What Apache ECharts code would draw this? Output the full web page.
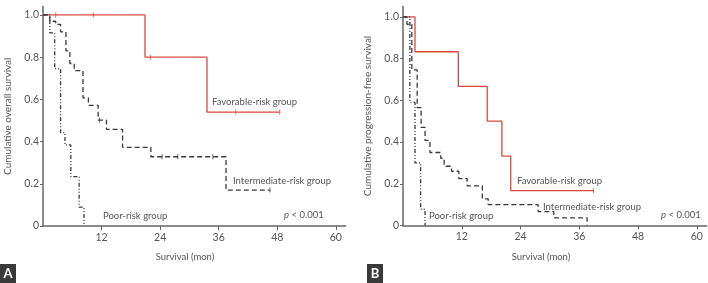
<!DOCTYPE html>
<html>
<head>
<meta charset="utf-8">
<script src="https://cdn.jsdelivr.net/npm/echarts@6/dist/echarts.min.js"></script>
<style>
  html, body { margin: 0; padding: 0; background: #fff; }
  #chart { width: 708px; height: 283px; }
</style>
</head>
<body>
<div id="chart"></div>
<script>
// A: overall survival (months, survival)
const osFavT = [0, 20.9, 33.6, 48.5];
const osFavS = [1.0, 0.80, 0.54, 0.54];
const osIntT = [0, 1.4, 2.6, 3.6, 4.7, 5.5, 6.4, 8.2, 9.3, 11.3, 13.0, 16.3, 22.1, 37.5, 46.5];
const osIntS = [1.0, 0.97, 0.955, 0.92, 0.83, 0.77, 0.736, 0.607, 0.572, 0.502, 0.458, 0.373, 0.328, 0.17, 0.17];
const osPoorT = [0, 1.4, 2.4, 3.6, 4.5, 5.7, 7.4, 8.4];
const osPoorS = [1.0, 0.915, 0.745, 0.442, 0.384, 0.234, 0.089, 0];
const osFavCensT = [2.6, 10.3, 22.0, 39.5, 48.5];
const osFavCensS = [1.0, 1.0, 0.8, 0.54, 0.54];
const osIntCensT = [11.6, 24.4, 27.6, 34.8, 46.5];
const osIntCensS = [0.502, 0.328, 0.328, 0.328, 0.17];

// B: progression-free survival
const pfsFavT = [0, 2.45, 11.3, 17.2, 20.2, 22.0, 38.9];
const pfsFavS = [1.0, 0.833, 0.667, 0.5, 0.333, 0.167, 0.167];
const pfsIntT = [0, 0.8, 1.8, 2.9, 3.7, 4.5, 5.5, 7.7, 8.4, 9.9, 11.4, 13.1, 16.2, 17.4, 27.6, 30.8, 37.6];
const pfsIntS = [1.0, 0.965, 0.746, 0.565, 0.47, 0.408, 0.35, 0.322, 0.284, 0.26, 0.225, 0.19, 0.128, 0.10, 0.067, 0.037, 0];
const pfsPoorT = [0, 1.4, 2.45, 3.6, 4.5];
const pfsPoorS = [1.0, 0.59, 0.30, 0.078, 0];
const pfsFavCensT = [38.9];
const pfsFavCensS = [0.167];

const xTicks = [12, 24, 36, 48, 60];
const yTicks = [0, 0.2, 0.4, 0.6, 0.8, 1.0];

const FONT = 'Lato, "Open Sans", sans-serif';
const RED = '#d8483f';
const INK = '#3a3a3a';
const TXT = '#555';

function pairs(t, s) {
    return t.map((v, i) => [v, s[i]]);
}

function km(name, idx, t, s, color, type) {
    return {
        name: name, type: 'line', step: 'end',
        xAxisIndex: idx, yAxisIndex: idx,
        data: pairs(t, s), symbol: 'none',
        lineStyle: { color: color, width: 1.3, type: type }
    };
}

function cens(idx, t, s, color) {
    return {
        type: 'scatter', xAxisIndex: idx, yAxisIndex: idx,
        data: pairs(t, s), symbol: 'rect', symbolSize: [1, 5],
        itemStyle: { color: color }
    };
}

function xAx(idx) {
    return {
        type: 'value', gridIndex: idx, min: 0, max: 62,
        axisLine: { lineStyle: { color: '#666', width: 1.5 } },
        axisTick: { length: 4, customValues: xTicks, lineStyle: { color: '#666' } },
        axisLabel: { customValues: xTicks, color: TXT, fontFamily: FONT, fontSize: 10.5, margin: 6 },
        splitLine: { show: false }
    };
}

function yAx(idx, max) {
    return {
        type: 'value', gridIndex: idx, min: 0, max: max,
        axisLine: { show: true, lineStyle: { color: '#666', width: 1.5 } },
        axisTick: { show: true, length: 3, customValues: yTicks, lineStyle: { color: '#666' } },
        axisLabel: {
            customValues: yTicks, color: TXT, fontFamily: FONT, fontSize: 10.5, margin: 4,
            formatter: v => v === 0 ? '0' : v.toFixed(1)
        },
        splitLine: { show: false },
        nameLocation: 'middle', nameGap: 30,
        nameTextStyle: { color: TXT, fontFamily: FONT, fontSize: 10 }
    };
}

function label(x, y, text) {
    return {
        type: 'text', x: x, y: y,
        style: { text: text, fill: TXT, font: '9.5px ' + FONT, verticalAlign: 'middle' }
    };
}

function pval(x, y) {
    return {
        type: 'text', x: x, y: y,
        style: {
            text: '{i|p} < 0.001', fill: TXT, font: '9.5px ' + FONT, verticalAlign: 'middle',
            rich: { i: { fontStyle: 'italic', fontFamily: FONT, fontSize: 9.5, fill: TXT } }
        }
    };
}

function panelTag(x, y, text) {
    return {
        type: 'group', x: x, y: y,
        children: [
            { type: 'rect', shape: { x: 0, y: 0, width: 16, height: 19 }, style: { fill: '#3a3a3a' } },
            {
                type: 'text', x: 8, y: 10,
                style: { text: text, fill: '#fff', font: 'bold 13px ' + FONT, align: 'center', verticalAlign: 'middle' }
            }
        ]
    };
}

const chart = echarts.init(document.getElementById('chart'));
const yA = yAx(0, 1.04);
yA.name = 'Cumulative overall survival';
const yB = yAx(1, 1.05);
yB.name = 'Cumulative progression-free survival';

chart.setOption({
    animation: false,
    grid: [
        { left: 43, top: 6.5, width: 302.6, height: 219.5 },
        { left: 403, top: 6.5, width: 303.6, height: 219 }
    ],
    xAxis: [xAx(0), xAx(1)],
    yAxis: [yA, yB],
    series: [
        km('Favorable A', 0, osFavT, osFavS, RED, 'solid'),
        km('Intermediate A', 0, osIntT, osIntS, INK, [5, 3]),
        km('Poor A', 0, osPoorT, osPoorS, INK, [4, 2, 1, 2, 1, 2]),
        cens(0, osFavCensT, osFavCensS, RED),
        cens(0, osIntCensT, osIntCensS, INK),
        km('Favorable B', 1, pfsFavT, pfsFavS, RED, 'solid'),
        km('Intermediate B', 1, pfsIntT, pfsIntS, INK, [5, 3]),
        km('Poor B', 1, pfsPoorT, pfsPoorS, INK, [4, 2, 1, 2, 1, 2]),
        cens(1, pfsFavCensT, pfsFavCensS, RED)
    ],
    graphic: [
        label(212, 102, 'Favorable-risk group'),
        label(233, 181, 'Intermediate-risk group'),
        label(103, 216, 'Poor-risk group'),
        pval(284, 215),
        label(517, 181, 'Favorable-risk group'),
        label(543, 207, 'Intermediate-risk group'),
        label(429, 216, 'Poor-risk group'),
        pval(661, 215),
        { type: 'text', x: 185, y: 257, style: { text: 'Survival (mon)', fill: TXT, font: '9.5px ' + FONT, align: 'center', verticalAlign: 'middle' } },
        { type: 'text', x: 541, y: 257, style: { text: 'Survival (mon)', fill: TXT, font: '9.5px ' + FONT, align: 'center', verticalAlign: 'middle' } },
        panelTag(0, 264, 'A'),
        panelTag(367, 264, 'B')
    ]
});
</script>
</body>
</html>
